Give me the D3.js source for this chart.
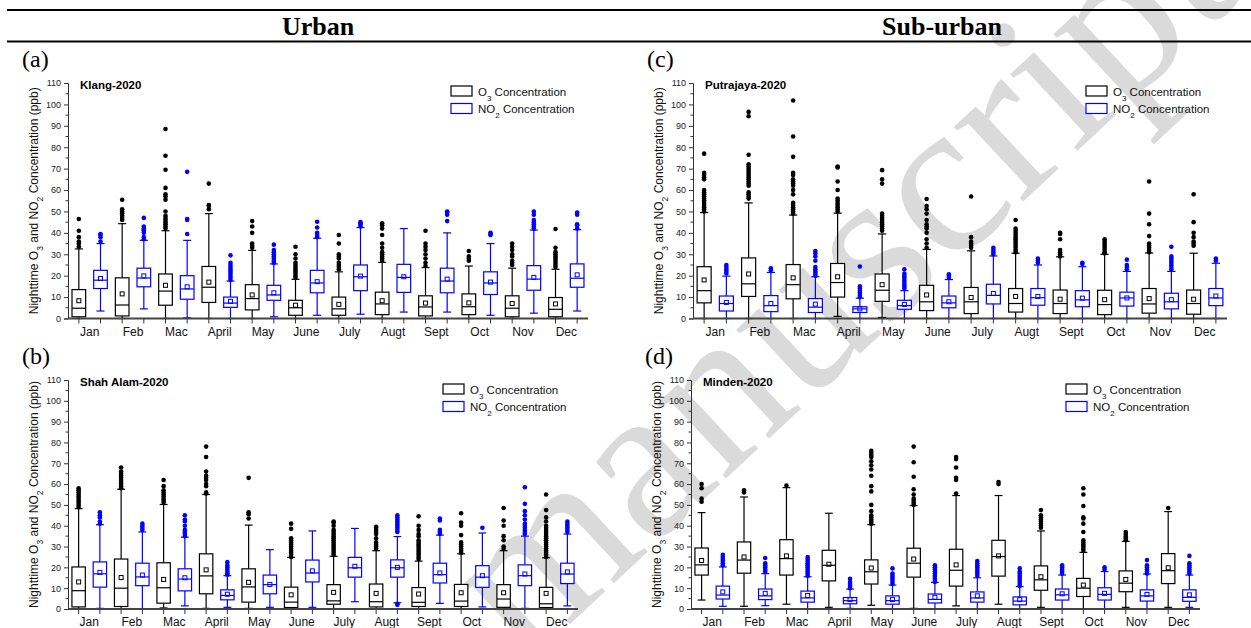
<!DOCTYPE html>
<html>
<head>
<meta charset="utf-8">
<script src="https://cdn.jsdelivr.net/npm/d3@7/dist/d3.min.js"></script>
<style>
  body { margin: 0; background: #fff; }
  svg { display: block; }
</style>
</head>
<body>
<div id="chart"></div>
<script>
// Mois (libellés tels qu'ils apparaissent dans la figure)
const months = ["Jan", "Feb", "Mac", "April", "May", "June", "July", "Augt", "Sept", "Oct", "Nov", "Dec"];
const yTicks = [0, 10, 20, 30, 40, 50, 60, 70, 80, 90, 100, 110];

// chaque boîte : [moustache basse, Q1, médiane, Q3, moustache haute, moyenne, [points aberrants]]
const klangO3 = [
  [0, 0.8, 4.8, 13.5, 32.5, 8.3, [33.5, 35, 36, 38, 41, 46.5]],
  [0, 1.2, 6.3, 19, 44.3, 11.5, [46, 47, 48, 49, 50, 51, 55.5]],
  [0, 6.2, 12.8, 20.8, 41, 15.5, [42, 43, 44, 45, 46, 47, 48, 50, 55.5, 57, 58, 61, 69.5, 76, 88.5]],
  [0, 7.5, 14.6, 24.3, 49, 17, [51, 52.5, 53, 63]],
  [0, 4, 9.3, 15.8, 31.8, 11, [33, 34, 35, 40, 43, 45.5]],
  [0, 1.5, 5, 8.5, 18.3, 6.2, [19, 20, 21, 22, 23, 24, 25, 26, 28, 30, 33.5]],
  [0, 1.5, 4.5, 10, 21.8, 6.6, [23, 24, 25, 26, 28, 29, 30, 35, 39]],
  [0, 1.8, 6.8, 12.3, 26.2, 8.3, [27, 28, 29, 30, 31, 33, 35, 39, 42, 43.5, 44.5]],
  [0, 1.2, 5.4, 10.6, 23.8, 7.2, [24.5, 26, 28, 30, 32, 33.5, 35, 41]],
  [0, 1.8, 5.5, 11.5, 24.5, 7.3, [27, 28, 29, 31.5]],
  [0, 0.8, 4.8, 10.6, 23.5, 7, [25, 26, 27, 29, 30, 32, 33.5, 35]],
  [0, 0.8, 4.3, 9.8, 23, 6.8, [24, 25, 26, 27, 28, 29, 30, 31, 33, 41.8]]
];
const klangNO2 = [
  [3.5, 14, 17.9, 22.5, 35, 18.7, [36, 38, 39, 39.5]],
  [4.5, 14.8, 18.9, 23.5, 36.5, 19.9, [37, 38, 40, 41, 41.5, 42, 43, 47]],
  [0.3, 9, 13.8, 20, 36.5, 14.8, [39.5, 46, 46.5, 68.5]],
  [0, 5.2, 7.2, 10, 17.5, 8, [18, 19, 20, 21, 22, 23, 24, 25, 26, 29.5]],
  [0.8, 8.5, 11, 15.5, 25.5, 12, [26, 27, 28, 29, 30, 31, 32, 34.5]],
  [1.5, 12, 16.6, 22.5, 37.5, 17.2, [38, 39, 40, 42.5, 45.2]],
  [2, 13, 19.5, 25, 42.5, 19.8, [43, 44, 44.5, 45]],
  [3, 12.2, 19.2, 25.3, 42, 19.5, []],
  [3, 12, 17.5, 23.5, 40, 18.4, [45.5, 48.5, 49.5, 50]],
  [1.5, 11.2, 16.6, 21.8, 35, 17, [39, 39.5, 40]],
  [2.5, 13.2, 18.4, 24.7, 41.3, 19.2, [42, 43, 44, 45, 46, 48.5, 50]],
  [3.5, 14.6, 18.8, 25.5, 41.5, 20.4, [42, 43.5, 44, 48.5, 49.5]]
];

const putrajayaO3 = [
  [0, 7.3, 13, 24.2, 49.5, 18, [50, 51, 52, 53, 54, 55, 56, 57, 58, 59, 60, 65, 66, 67, 68, 77]],
  [0, 10.3, 16.2, 28.3, 54, 20.8, [56, 57, 58, 59, 62, 63, 64, 65, 66, 67, 68, 69, 70, 71, 72, 76.5, 94.5, 96.5]],
  [0, 9.2, 15.8, 25.2, 48.3, 19, [49, 50, 51, 52, 53, 54, 58, 60, 62, 63, 64, 65, 67, 68, 75.5, 85, 101.8]],
  [1, 10, 16.8, 25.7, 49.2, 19.5, [50, 51, 52, 53, 54, 55, 56, 60, 64, 70.5, 71]],
  [0.5, 8, 13.2, 20.8, 39.5, 15.8, [41, 42, 43, 44, 45, 46, 47, 48, 49, 63, 65, 69.3]],
  [0, 3.7, 7.8, 15.5, 32.3, 11, [33, 35, 37, 40, 42, 43, 44, 46, 49, 51, 52.5, 55.8]],
  [0, 2.3, 7.8, 14.5, 31.6, 9.8, [33, 34, 35, 36, 38, 57]],
  [0, 3, 7, 14, 30.5, 10.3, [31, 32, 33, 34, 35, 36, 37, 38, 39, 40, 41, 42, 46]],
  [0, 2.3, 7, 13.3, 28.8, 9, [29, 30, 31, 32, 37, 39.5, 40]],
  [0, 1.8, 6.5, 13.2, 30, 8.8, [30.5, 31, 32, 33, 34, 35, 36, 37]],
  [0, 2.5, 6.8, 14, 30.6, 9.3, [31, 32, 33, 34, 35, 38.5, 44, 49, 64]],
  [0, 2, 7, 13.3, 30.5, 9, [34, 35, 36, 38, 40, 45, 58]]
];
const putrajayaNO2 = [
  [0, 3.5, 7, 10.5, 19.8, 7.5, [21, 22, 23, 24, 25]],
  [0, 3.2, 6, 10.7, 21.5, 7, [22.5, 23.5]],
  [0, 2.8, 5.3, 9.3, 19.5, 6.7, [20, 21, 22, 23, 24, 27, 29, 30.5, 31.5]],
  [0, 2.8, 4.5, 5.5, 9.5, 4.5, [10, 11, 12, 13, 14, 15, 24.3]],
  [0, 4.3, 6, 8.5, 13, 6.6, [14, 15, 16, 17, 18, 19, 20, 21, 23]],
  [0, 5, 7.3, 10.5, 18.2, 7.8, [19, 20, 20.7]],
  [0, 6.8, 10.8, 16, 29.2, 11.7, [30, 31, 32, 33]],
  [0, 6.2, 9.7, 14, 25, 10.3, [26, 27, 28]],
  [0, 5.5, 8.7, 13, 24.2, 9.5, [25.5, 26]],
  [0, 5.8, 9.6, 12.3, 22, 9.6, [23, 24, 25, 27.5]],
  [0, 4.5, 7.8, 11.8, 22, 8.8, [23, 24, 25, 26, 27, 28, 29, 33.5]],
  [0, 6, 9.6, 14, 25.8, 10.5, [27, 28]]
];

const shahAlamO3 = [
  [0, 1, 8.8, 20.2, 48.2, 13, [49, 50, 51, 52, 53, 54, 55, 56, 57, 58]],
  [0, 1.2, 10, 24, 57.5, 15.1, [58, 59, 60, 61, 62, 63, 64, 65, 66, 68]],
  [0.5, 2.8, 10.2, 22.2, 50.2, 14.2, [51, 52, 53, 54, 55, 56, 57, 59, 62]],
  [0.3, 7.3, 15.9, 26.5, 55, 18.8, [55.5, 56, 59, 60, 62, 63, 64, 66, 73, 78]],
  [0.3, 3.3, 10.6, 19.3, 40.3, 12.8, [43.5, 45.5, 46.5, 63]],
  [0, 0.7, 3.3, 10.5, 24.8, 6.8, [25, 26, 27, 28, 29, 30, 31, 32, 33, 34, 38.5, 41]],
  [0, 2.3, 3.9, 11.7, 25.3, 8, [26, 27, 28, 29, 30, 31, 32, 33, 34, 35, 36, 37, 38, 40, 41.5, 42]],
  [0, 1, 3.5, 12, 28, 7.5, [29, 30, 31, 32, 34, 36, 37, 38, 39, 39.5]],
  [0, 1.2, 3.2, 10.3, 23, 7.2, [24, 25, 26, 27, 28, 29, 30, 31, 32, 33, 35, 36, 38, 40, 44.5]],
  [0, 1.2, 3.8, 11.8, 26.5, 7.8, [27, 28, 29, 30, 31, 32, 35.5, 40, 41.5, 46]],
  [0, 0.8, 4.8, 11.7, 28, 7.8, [29, 30, 33, 35, 40, 42.5, 48.5]],
  [0, 0.7, 2.5, 10.4, 24.6, 7.5, [25, 26, 27, 28, 29, 30, 31, 32, 33, 34, 35, 36, 37, 38, 39, 40, 42, 44, 47.5, 55]]
];
const shahAlamNO2 = [
  [0.3, 10.5, 16.9, 22.6, 40.5, 17.6, [41, 42, 44, 45, 46.5]],
  [0, 11.2, 15.4, 22, 37, 16.3, [38, 39, 40, 41]],
  [1.5, 8.7, 14.4, 19.3, 34.5, 15, [35, 36, 37, 38, 40, 42, 43, 45]],
  [0.8, 4.4, 6.5, 9.2, 16, 7.1, [16.5, 17, 18, 19, 20, 21, 22.5]],
  [0.8, 7.3, 11.7, 16.3, 28.5, 11.8, []],
  [0.8, 13, 17.3, 23.5, 37.5, 18.3, []],
  [3.5, 15.3, 19.8, 24.8, 38.7, 20.5, []],
  [3, 15.3, 19.8, 23.6, 34.8, 20, [2, 2.5, 37, 38, 39, 40, 41, 42, 43, 44, 45]],
  [2.7, 12.5, 16.5, 22, 35.5, 17.3, [36, 37, 38, 42.5, 43.5]],
  [1, 10.4, 15.3, 20.8, 36.5, 16, [39]],
  [0.3, 11.2, 16, 21.2, 35, 16.8, [36, 37, 38, 39, 40, 41, 43, 45, 47, 50.5, 58.5]],
  [1.5, 12.2, 16.8, 22, 36, 17.8, [37, 38, 39, 40, 41, 42]]
];

const mindenO3 = [
  [4.3, 16.3, 21.2, 29.3, 46.3, 23.3, [51.5, 53, 58, 60]],
  [1.3, 17.2, 23.5, 32.2, 53.8, 25, [56, 57]],
  [2.3, 16.3, 24.2, 33.3, 58.3, 25.5, [59.3]],
  [0.8, 13.5, 21, 28.2, 46, 21.5, []],
  [1.8, 12, 17.9, 23.6, 40.5, 19.7, [41, 42, 43, 44, 45, 47, 50, 56.5, 59, 64, 67, 69, 71, 73, 74, 75, 76]],
  [0.3, 15.3, 22, 29.2, 49.7, 24, [50, 51, 52, 53, 55, 57.5, 63.5, 70.5, 78]],
  [1.5, 11, 18.6, 28.7, 54.5, 21.2, [55.5, 62, 63, 68, 72, 73]],
  [2.3, 15.8, 25.2, 33, 54.5, 25.5, [60, 61]],
  [0.8, 9, 14, 20.7, 37.5, 15.5, [39, 40, 41, 42, 43, 44, 45, 47.5]],
  [0, 6, 10, 14.7, 27.2, 11.5, [28, 29, 30, 31, 32, 33, 37, 41, 43.5, 44, 49.5, 55, 58]],
  [0.8, 8.3, 12.4, 18.3, 32.5, 14.2, [33, 34, 35, 36, 37]],
  [0.8, 12.2, 18.4, 26.6, 46.8, 19.8, [48.5]]
];
const mindenNO2 = [
  [1.3, 4.8, 6.7, 11, 20.2, 8.2, [21, 22, 23, 24, 25, 26]],
  [1.6, 4.5, 6.3, 9.6, 17, 7.5, [18, 19, 20, 21, 22, 24.5]],
  [0, 3.3, 5.3, 8.6, 15.5, 6.5, [16, 17, 18, 19, 20, 21, 22, 23, 24, 25]],
  [0.3, 2.5, 4, 5.5, 9.6, 4.5, [10, 11, 12, 13, 14.5]],
  [0, 2.3, 4, 6.3, 11.5, 4.5, [12, 13, 14, 15, 16, 17, 19.5]],
  [0, 2.9, 4.6, 7.2, 12.8, 5.6, [13, 14, 15, 16, 17, 18, 19, 20, 21]],
  [0, 3.3, 5.3, 8.2, 15, 6.3, [16, 17, 18, 19, 20, 21, 22, 23]],
  [0, 2, 3.8, 5.8, 10.8, 4.5, [11, 12, 13, 14, 15, 16, 17, 18, 19.5]],
  [0, 4.3, 6.8, 9.6, 16.3, 7.3, [17, 18, 19, 20, 21]],
  [0, 4.3, 7, 10.2, 18, 7.5, [19, 20]],
  [0, 3.8, 6.3, 9.2, 16.8, 7, [17, 18, 19, 20, 21, 23.5]],
  [0.8, 3.7, 5.6, 9.2, 16.3, 6.8, [17, 18, 19, 20, 21, 22, 25.5]]
];

const W = 1251, H = 628;
const noir = "#000", bleu = "#0000ff";

const svg = d3.select("#chart").append("svg")
  .attr("width", W)
  .attr("height", H)
  .style("font-family", "Arial, 'Liberation Sans', sans-serif");

// Filigrane gris en diagonale (coupé par les bords, comme dans l'original)
const clip = svg.append("defs").append("clipPath").attr("id", "cadre");
clip.append("rect").attr("width", W).attr("height", H);
svg.append("g").attr("clip-path", "url(#cadre)")
  .append("text")
  .attr("transform", "translate(524,667) rotate(-43)")
  .attr("font-family", "'Liberation Serif', 'Times New Roman', serif")
  .attr("font-size", 222)
  .attr("fill", "#dadada")
  .text("manuscript");

// En-tête
svg.append("line").attr("x1", 7).attr("x2", W).attr("y1", 10).attr("y2", 10)
  .attr("stroke", "#000").attr("stroke-width", 2);
svg.append("line").attr("x1", 7).attr("x2", W).attr("y1", 41.5).attr("y2", 41.5)
  .attr("stroke", "#000").attr("stroke-width", 2);

[["Urban", 318], ["Sub-urban", 942]].forEach(([t, x]) => {
  svg.append("text")
    .attr("x", x).attr("y", 35)
    .attr("text-anchor", "middle")
    .attr("font-family", "'Liberation Serif', 'Times New Roman', serif")
    .attr("font-weight", "bold")
    .attr("font-size", 26)
    .text(t);
});

function dessinerPanneau(p) {
  const g = svg.append("g");

  const slots = d3.range(24);
  const x = d3.scaleBand().domain(slots).range([p.left, p.right]);
  const y = d3.scaleLinear().domain([0, 110]).range([p.bottom, p.top]);
  const step = x.bandwidth();
  const boxW = step * 0.63;
  const capW = step * 0.37;

  // lettre du panneau
  g.append("text")
    .attr("x", p.left - 46).attr("y", p.top - 16)
    .attr("font-family", "'Liberation Serif', 'Times New Roman', serif")
    .attr("font-size", 24)
    .text(p.label);

  // axe Y
  const axeY = g.append("g")
    .attr("transform", `translate(${p.left},0)`)
    .call(d3.axisLeft(y).tickValues(yTicks).tickSize(4).tickPadding(3));
  axeY.select(".domain").attr("stroke", "#333");
  axeY.selectAll(".tick line").attr("stroke", "#333");
  axeY.selectAll("text").attr("font-size", 9).attr("fill", "#222")
    .attr("font-family", "Arial, 'Liberation Sans', sans-serif");

  const minor = d3.range(5, 110, 10);
  g.selectAll(".minor").data(minor).join("line")
    .attr("x1", p.left - 2.5).attr("x2", p.left)
    .attr("y1", d => y(d)).attr("y2", d => y(d))
    .attr("stroke", "#333");

  // titre Y
  const ty = g.append("text")
    .attr("transform", `translate(${p.left - 30},${(p.top + p.bottom) / 2}) rotate(-90)`)
    .attr("text-anchor", "middle")
    .attr("font-size", 12)
    .attr("fill", "#111");
  ty.append("tspan").text("Nighttime O");
  ty.append("tspan").attr("baseline-shift", "sub").attr("font-size", 8.5).text("3");
  ty.append("tspan").text(" and NO");
  ty.append("tspan").attr("baseline-shift", "sub").attr("font-size", 8.5).text("2");
  ty.append("tspan").text(" Concentration (ppb)");

  // titre du site
  g.append("text")
    .attr("x", p.left + 12).attr("y", p.top + 6)
    .attr("font-weight", "bold")
    .attr("font-size", 11.5)
    .text(p.title);

  // boîtes
  const series = [
    { data: p.o3, color: noir, offset: 0 },
    { data: p.no2, color: bleu, offset: 1 }
  ];

  series.forEach(s => {
    s.data.forEach((d, i) => {
      const [lo, q1, med, q3, hi, mean, out] = d;
      const cx = x(i * 2 + s.offset) + step / 2;
      const b = g.append("g").attr("stroke", s.color).attr("fill", "none").attr("stroke-width", 1.2);

      b.append("line").attr("x1", cx).attr("x2", cx).attr("y1", y(hi)).attr("y2", y(q3));
      b.append("line").attr("x1", cx).attr("x2", cx).attr("y1", y(q1)).attr("y2", y(lo));
      b.append("line").attr("x1", cx - capW / 2).attr("x2", cx + capW / 2).attr("y1", y(hi)).attr("y2", y(hi));
      b.append("line").attr("x1", cx - capW / 2).attr("x2", cx + capW / 2).attr("y1", y(lo)).attr("y2", y(lo));
      b.append("rect")
        .attr("x", cx - boxW / 2).attr("y", y(q3))
        .attr("width", boxW).attr("height", y(q1) - y(q3))
        .attr("fill", "#fff");
      b.append("line").attr("x1", cx - boxW / 2).attr("x2", cx + boxW / 2).attr("y1", y(med)).attr("y2", y(med));
      b.append("rect")
        .attr("x", cx - 2).attr("y", y(mean) - 2)
        .attr("width", 4).attr("height", 4)
        .attr("stroke-width", 1);

      g.selectAll(null).data(out).join("circle")
        .attr("cx", cx).attr("cy", v => y(v))
        .attr("r", 2.3)
        .attr("fill", s.color);
    });
  });

  // axe X
  g.append("line")
    .attr("x1", p.left).attr("x2", p.right)
    .attr("y1", p.bottom).attr("y2", p.bottom)
    .attr("stroke", "#444").attr("stroke-width", 1.8);
  g.selectAll(".xtick").data(slots).join("line")
    .attr("x1", d => x(d) + step / 2).attr("x2", d => x(d) + step / 2)
    .attr("y1", p.bottom).attr("y2", p.bottom + 5)
    .attr("stroke", "#333");
  g.selectAll(".mois").data(months).join("text")
    .attr("x", (d, i) => x(i * 2) + step)
    .attr("y", p.bottom + 17)
    .attr("text-anchor", "middle")
    .attr("font-size", 12)
    .attr("fill", "#111")
    .text(d => d);

  // légende
  const leg = [["O", "3", noir], ["NO", "2", bleu]];
  leg.forEach(([a, sub, c], k) => {
    const ly = p.legendY + k * 17.5;
    g.append("rect")
      .attr("x", p.legendX).attr("y", ly)
      .attr("width", 21).attr("height", 10)
      .attr("fill", "#fff").attr("stroke", c).attr("stroke-width", 1.2);
    const t = g.append("text")
      .attr("x", p.legendX + 27).attr("y", ly + 9.5)
      .attr("font-size", 11.5).attr("fill", "#111");
    t.append("tspan").text(a);
    t.append("tspan").attr("baseline-shift", "sub").attr("font-size", 8).text(sub);
    t.append("tspan").text(" Concentration");
  });
}

dessinerPanneau({ label: "(a)", title: "Klang-2020", o3: klangO3, no2: klangNO2,
  left: 68, right: 588, top: 83, bottom: 318.5, legendX: 451, legendY: 86 });
dessinerPanneau({ label: "(c)", title: "Putrajaya-2020", o3: putrajayaO3, no2: putrajayaNO2,
  left: 693, right: 1227, top: 83, bottom: 318.5, legendX: 1086, legendY: 86 });
dessinerPanneau({ label: "(b)", title: "Shah Alam-2020", o3: shahAlamO3, no2: shahAlamNO2,
  left: 68, right: 578, top: 380, bottom: 609, legendX: 443, legendY: 384 });
dessinerPanneau({ label: "(d)", title: "Minden-2020", o3: mindenO3, no2: mindenNO2,
  left: 691, right: 1200, top: 380, bottom: 609, legendX: 1066, legendY: 384 });
</script>
</body>
</html>
